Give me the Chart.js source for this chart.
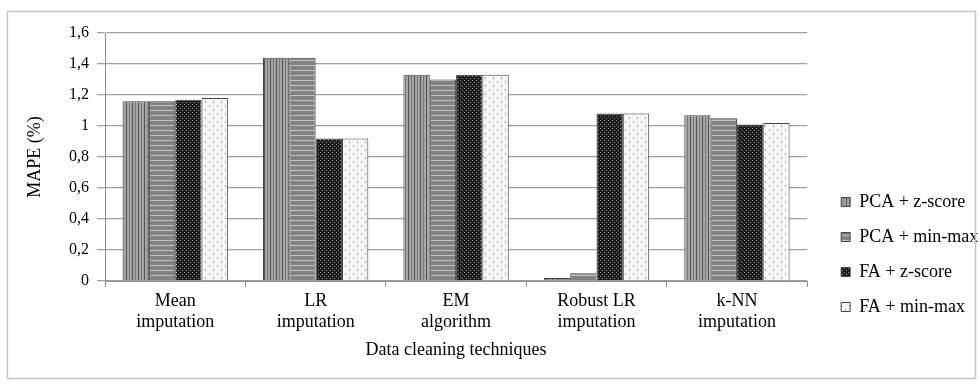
<!DOCTYPE html>
<html>
<head>
<meta charset="utf-8">
<script src="https://cdn.jsdelivr.net/npm/chart.js@4/dist/chart.umd.min.js"></script>
<style>
  html, body { margin: 0; padding: 0; background: #fff; overflow: hidden; }
  #wrap { width: 986px; height: 385px; }
</style>
</head>
<body>
<div id="wrap"><canvas id="mapeChart"></canvas></div>
<script>
const categories = [
    ['Mean', 'imputation'],
    ['LR', 'imputation'],
    ['EM', 'algorithm'],
    ['Robust LR', 'imputation'],
    ['k-NN', 'imputation']
];
const seriesNames = ['PCA + z-score', 'PCA + min-max', 'FA + z-score', 'FA + min-max'];
const pcaZscore = [1.16, 1.44, 1.33, 0.02, 1.07];
const pcaMinmax = [1.16, 1.44, 1.30, 0.05, 1.05];
const faZscore = [1.17, 0.92, 1.33, 1.08, 1.01];
const faMinmax = [1.18, 0.92, 1.33, 1.08, 1.02];
const yTicks = [0, 0.2, 0.4, 0.6, 0.8, 1, 1.2, 1.4, 1.6];

function makePattern(w, h, draw) {
    const c = document.createElement('canvas');
    c.width = w;
    c.height = h;
    const g = c.getContext('2d');
    draw(g, w, h);
    return g.createPattern(c, 'repeat');
}

// hatch fills like the printed figure
const fills = [
    makePattern(6, 6, (g, w, h) => {
        g.fillStyle = '#a4a4a4'; g.fillRect(0, 0, w, h);
        g.fillStyle = '#555'; g.fillRect(0, 0, 1, h);
        g.fillStyle = '#7c7c7c'; g.fillRect(3, 0, 1, h);
    }),
    makePattern(5, 5, (g, w, h) => {
        g.fillStyle = '#828282'; g.fillRect(0, 0, w, h);
        g.fillStyle = '#c2c2c2'; g.fillRect(0, 0, w, 1);
    }),
    makePattern(4, 4, (g, w, h) => {
        g.fillStyle = '#1c1c1c'; g.fillRect(0, 0, w, h);
        g.fillStyle = '#8e8e8e'; g.fillRect(0, 0, 1, 1); g.fillRect(2, 2, 1, 1);
    }),
    makePattern(8, 8, (g, w, h) => {
        g.fillStyle = '#f8f8f8'; g.fillRect(0, 0, w, h);
        g.fillStyle = '#a6a6a6'; g.fillRect(1, 1, 1, 2); g.fillRect(5, 5, 1, 2);
    })
];

const values = [pcaZscore, pcaMinmax, faZscore, faMinmax];

const frame = {
    id: 'frame',
    afterDraw(chart) {
        const ctx = chart.ctx;
        ctx.save();
        ctx.strokeStyle = '#c4c4c4';
        ctx.lineWidth = 1.5;
        ctx.strokeRect(7.5, 11.5, 968, 367);
        ctx.restore();
    }
};

Chart.defaults.font.family = "'Liberation Serif', 'Times New Roman', serif";
Chart.defaults.color = '#000';

new Chart(document.getElementById('mapeChart'), {
    type: 'bar',
    data: {
        labels: categories,
        datasets: seriesNames.map((name, i) => ({
            label: name,
            data: values[i],
            backgroundColor: fills[i],
            borderColor: '#444',
            borderWidth: 1,
            categoryPercentage: 0.75,
            barPercentage: 1.0
        }))
    },
    options: {
        responsive: true,
        maintainAspectRatio: false,
        animation: false,
        layout: { padding: { left: 15, top: 33, bottom: 20, right: 0 } },
        plugins: {
            legend: {
                position: 'right',
                align: 'start',
                title: { display: true, text: ' ', font: { size: 10 }, padding: { top: 131, bottom: 0 } },
                labels: {
                    boxWidth: 9,
                    boxHeight: 9,
                    padding: 17,
                    font: { size: 18 }
                }
            },
            tooltip: { enabled: false }
        },
        scales: {
            x: {
                grid: { display: true, drawOnChartArea: false, offset: true, tickLength: 6, color: '#909090' },
                border: { color: '#909090' },
                ticks: { font: { size: 18 }, padding: 3, maxRotation: 0 },
                title: { display: true, text: 'Data cleaning techniques', font: { size: 18 }, padding: { top: 4, bottom: 4 } },
                afterFit: s => { s.height = 84; }
            },
            y: {
                min: 0,
                max: 1.6,
                afterBuildTicks: s => { s.ticks = yTicks.map(v => ({ value: v })); },
                grid: { color: '#a0a0a0', lineWidth: 1.3, tickLength: 8 },
                border: { color: '#909090' },
                ticks: {
                    font: { size: 16 },
                    padding: 8,
                    callback: v => String(Math.round(v * 10) / 10).replace('.', ',')
                },
                title: { display: true, text: 'MAPE (%)', font: { size: 18 }, padding: { top: 9, bottom: 4 } },
                afterFit: s => { s.width = 90; }
            },
            spacer: {
                type: 'linear',
                position: 'right',
                display: true,
                grid: { display: false },
                border: { display: false },
                ticks: { display: false },
                afterFit: s => { s.width = 17; }
            }
        }
    },
    plugins: [frame]
});
</script>
</body>
</html>
